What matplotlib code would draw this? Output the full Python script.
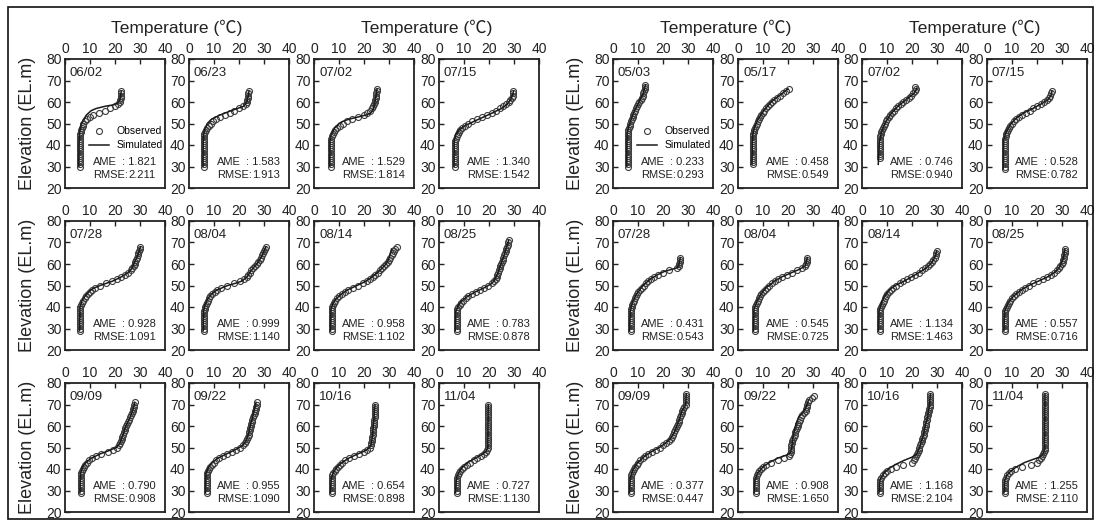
import matplotlib
matplotlib.use("Agg")
import matplotlib.pyplot as plt
import numpy as np
from matplotlib.patches import Rectangle

plt.rcParams['font.family'] = ['Liberation Sans', 'DejaVu Sans']

# ---- observed profiles: temperature at 1 m steps starting from the base elevation ----
# left group (first reservoir)
A_0602_BASE = 30
A_0602_OBS = [6.0, 6.0, 6.0, 6.0, 6.0, 6.0, 6.0, 6.0, 6.0, 6.0, 6.0, 6.0, 6.0, 6.0, 6.0,
              6.1, 6.2, 6.4, 6.7, 7.0, 7.3, 8.0, 8.8, 9.8, 11.0, 13.5, 16.0, 18.0, 20.0,
              21.2, 21.8, 22.0, 22.3, 22.5, 22.5, 22.5]
A_0602_SIM_Z = [30, 40, 45, 48, 50, 52, 54, 56, 57, 58, 58.7, 59.5, 61, 65]
A_0602_SIM_T = [5.5, 5.6, 5.8, 6.1, 6.6, 7.5, 8.6, 10.5, 12.5, 16.0, 19.5, 21.2, 22.0, 22.5]

A_0623_BASE = 30
A_0623_OBS = [6.0, 6.0, 6.0, 6.0, 6.0, 6.0, 6.0, 6.0, 6.0, 6.0, 6.0, 6.0, 6.0, 6.0, 6.0, 6.0,
              6.3, 6.7, 7.2, 7.8, 8.6, 9.5, 10.8, 12.5, 14.5, 16.3, 18.0, 19.8, 21.5, 22.6,
              23.0, 23.2, 23.4, 23.5, 23.6, 23.8]
A_0623_SIM_Z = [30, 44, 47, 50, 52, 54, 56, 58, 60, 65]
A_0623_SIM_T = [5.6, 5.7, 6.2, 7.3, 9.0, 12.5, 17.0, 21.8, 23.2, 24.0]

A_0702_BASE = 30
A_0702_OBS = [6.8, 6.8, 6.8, 6.8, 6.8, 6.8, 6.8, 6.8, 6.8, 6.8, 6.8, 6.8, 6.8,
              6.9, 7.1, 7.4, 7.8, 8.4, 9.2, 10.2, 11.5, 13.0, 15.0, 17.5, 19.8, 21.3, 22.3,
              23.0, 23.6, 24.0, 24.3, 24.5, 24.7, 24.8, 24.9, 25.0, 25.0]
A_0702_SIM_Z = [30, 42, 45, 48, 50, 51, 52, 53, 54, 55, 57, 60, 66]
A_0702_SIM_T = [6.3, 6.4, 6.9, 8.3, 10.0, 11.5, 14.0, 17.5, 21.0, 22.8, 23.8, 24.4, 25.2]

A_0715_BASE = 30
A_0715_OBS = [6.5, 6.5, 6.5, 6.5, 6.5, 6.5, 6.5, 6.5, 6.5, 6.5, 6.5, 6.5, 6.5,
              6.7, 7.0, 7.4, 7.9, 8.5, 9.3, 10.3, 11.6, 13.2, 15.0, 17.0, 19.0, 21.0, 22.8,
              24.4, 25.7, 26.8, 27.8, 28.5, 29.0, 29.4, 29.6, 29.7]
A_0715_SIM_Z = [30, 42, 45, 47, 49, 51, 53, 55, 57, 59, 61, 63, 65]
A_0715_SIM_T = [6.0, 6.1, 6.8, 8.0, 10.5, 14.0, 17.8, 21.5, 25.0, 27.3, 28.6, 29.3, 29.8]

A_0728_BASE = 29
A_0728_OBS = [6.0, 6.0, 6.0, 6.0, 6.0, 6.0, 6.0, 6.0, 6.0, 6.0, 6.0, 6.0,
              6.3, 6.7, 7.2, 7.8, 8.5, 9.2, 9.9, 10.7, 12.0, 14.0, 16.5, 18.8, 20.8, 22.5,
              24.0, 25.2, 26.2, 26.9, 27.4, 27.8, 28.1, 28.4, 28.7, 29.0, 29.3, 29.6, 29.9, 30.0]
A_0728_SIM_Z = [29, 40, 43, 45, 47, 48.5, 50, 51, 52, 54, 56, 58, 62, 66, 68]
A_0728_SIM_T = [5.8, 6.0, 6.8, 8.0, 9.5, 11.0, 14.0, 16.5, 19.0, 22.5, 25.3, 26.8, 28.3, 29.7, 30.2]

A_0804_BASE = 29
A_0804_OBS = [6.0, 6.0, 6.0, 6.0, 6.0, 6.0, 6.0, 6.0, 6.0, 6.0,
              6.2, 6.4, 6.7, 7.0, 7.4, 7.9, 8.5, 9.3, 10.2, 11.3, 12.8, 15.0, 18.0, 20.5,
              22.0, 23.0, 23.6, 24.2, 24.8, 25.5, 26.3, 27.0, 27.6, 28.2, 28.7, 29.2, 29.6,
              30.0, 30.4, 30.7]
A_0804_SIM_Z = [29, 38, 41, 44, 46, 48, 50, 51, 52, 54, 56, 58, 60, 63, 66, 68]
A_0804_SIM_T = [5.7, 5.8, 6.4, 7.6, 9.0, 11.3, 15.5, 18.5, 21.0, 23.2, 24.3, 25.6, 27.1, 28.8, 30.0, 30.8]

A_0814_BASE = 29
A_0814_OBS = [7.0, 7.0, 7.0, 7.0, 7.0, 7.0, 7.0, 7.0, 7.0, 7.0, 7.0,
              7.2, 7.5, 7.9, 8.5, 9.2, 10.0, 11.0, 12.2, 13.7, 15.5, 17.5, 19.5, 21.0, 22.3,
              23.5, 24.5, 25.5, 26.4, 27.3, 28.1, 28.8, 29.4, 30.0, 30.5, 31.0, 31.5, 32.0,
              32.5, 33.0]
A_0814_SIM_Z = [29, 39, 42, 44, 46, 48, 50, 52, 54, 56, 58, 60, 62, 64, 67]
A_0814_SIM_T = [6.6, 6.8, 7.7, 9.0, 11.0, 13.5, 17.2, 20.8, 23.3, 25.4, 27.2, 28.8, 29.8, 30.3, 31.0]

A_0825_BASE = 29
A_0825_OBS = [7.0, 7.0, 7.0, 7.0, 7.0, 7.0, 7.0, 7.0, 7.0, 7.0,
              7.3, 7.7, 8.2, 8.9, 9.7, 10.6, 11.7, 13.0, 14.8, 16.5, 18.0, 19.5, 21.0, 22.0,
              22.6, 23.0, 23.3, 23.6, 23.9, 24.2, 24.5, 24.8, 25.1, 25.4, 25.7, 26.0, 26.3,
              26.6, 26.9, 27.2, 27.5, 27.7, 27.8]
A_0825_SIM_Z = [29, 38, 41, 43, 45, 47, 49, 50.5, 52, 55, 60, 65, 71]
A_0825_SIM_T = [6.5, 6.7, 7.8, 9.3, 11.5, 14.5, 18.2, 20.5, 22.0, 23.3, 24.8, 26.3, 27.9]

A_0909_BASE = 29
A_0909_OBS = [6.5, 6.5, 6.5, 6.5, 6.5, 6.5, 6.5, 6.5, 6.5, 6.5,
              6.7, 7.0, 7.4, 8.0, 8.7, 9.6, 10.8, 12.4, 14.5, 17.0, 19.3, 20.8, 21.6, 22.0,
              22.3, 22.6, 22.9, 23.2, 23.5, 23.8, 24.1, 24.4, 24.8, 25.2, 25.6, 26.0, 26.4,
              26.7, 27.0, 27.2, 27.4, 27.6, 27.8]
A_0909_SIM_Z = [29, 38, 41, 43, 45, 47, 48.5, 50, 52, 56, 60, 64, 68, 71]
A_0909_SIM_T = [6.0, 6.2, 7.0, 8.3, 10.5, 14.0, 17.5, 20.5, 22.0, 23.2, 24.4, 26.0, 27.3, 27.9]

A_0922_BASE = 29
A_0922_OBS = [7.2, 7.2, 7.2, 7.2, 7.2, 7.2, 7.2, 7.2, 7.2, 7.2,
              7.5, 7.9, 8.4, 9.0, 9.8, 10.8, 12.0, 13.5, 15.2, 17.0, 18.7, 20.2, 21.4, 22.2,
              22.8, 23.2, 23.5, 23.8, 24.0, 24.2, 24.4, 24.6, 24.8, 25.0, 25.3, 25.6, 25.9,
              26.2, 26.4, 26.6, 26.8, 27.0, 27.2]
A_0922_SIM_Z = [29, 38, 41, 43, 45, 47, 49, 51, 53, 56, 60, 64, 68, 71]
A_0922_SIM_T = [6.6, 6.8, 7.9, 9.3, 11.5, 15.0, 18.6, 21.5, 22.8, 23.7, 24.5, 25.4, 26.2, 26.8]

A_1016_BASE = 29
A_1016_OBS = [7.0, 7.0, 7.0, 7.0, 7.0, 7.0, 7.0, 7.0,
              7.3, 7.7, 8.2, 8.8, 9.5, 10.3, 11.3, 12.5, 14.0, 15.8, 17.8, 19.8, 21.3, 22.2,
              22.6, 22.9, 23.1, 23.2, 23.3, 23.4, 23.5, 23.6, 23.7, 23.8, 23.9, 24.0, 24.1,
              24.2, 24.3, 24.3, 24.4, 24.4, 24.5, 24.5]
A_1016_SIM_Z = [29, 36, 39, 41, 43, 45, 47, 48.5, 50, 52, 56, 62, 70]
A_1016_SIM_T = [6.6, 6.9, 8.0, 9.3, 11.2, 13.8, 17.5, 20.5, 22.3, 23.0, 23.4, 23.9, 24.4]

A_1104_BASE = 29
A_1104_OBS = [7.0, 7.0, 7.0, 7.0, 7.0, 7.0, 7.0, 7.0,
              7.4, 7.9, 8.5, 9.2, 10.0, 11.0, 12.3, 13.8, 15.3, 16.8, 18.0, 18.8, 19.2, 19.4,
              19.5, 19.5, 19.5, 19.5, 19.5, 19.5, 19.5, 19.6, 19.6, 19.6, 19.6, 19.6, 19.6,
              19.6, 19.6, 19.7, 19.7, 19.7, 19.7, 19.7]
A_1104_SIM_Z = [29, 36, 39, 41, 43, 45, 47, 48.5, 50, 70]
A_1104_SIM_T = [6.6, 7.0, 8.2, 9.5, 11.5, 14.5, 17.5, 19.0, 19.5, 19.7]

# right group (second reservoir)
B_0503_BASE = 30
B_0503_OBS = [5.8, 5.8, 5.8, 5.8, 5.8, 5.8, 5.8, 5.8, 5.8, 5.8, 5.8, 5.8, 5.8, 5.8, 5.8,
              5.8, 5.8, 6.0, 6.3, 6.6, 6.9, 7.2, 7.5, 7.8, 8.1, 8.4, 8.8, 9.2, 9.6, 10.0,
              10.5, 11.0, 11.4, 11.8, 12.1, 12.4, 12.6, 12.8, 12.9]
B_0503_SIM_Z = [30, 44, 48, 52, 56, 60, 64, 68]
B_0503_SIM_T = [5.5, 5.6, 6.1, 7.3, 8.6, 10.4, 12.1, 13.0]

B_0517_BASE = 31
B_0517_OBS = [6.0, 6.0, 6.0, 6.0, 6.0, 6.0, 6.0, 6.0, 6.0, 6.0, 6.0, 6.0, 6.0, 6.0, 6.0,
              6.2, 6.4, 6.7, 7.0, 7.4, 7.8, 8.2, 8.7, 9.2, 9.8, 10.4, 11.0, 11.8, 12.6,
              13.5, 14.5, 15.6, 16.8, 18.0, 19.2, 20.2]
B_0517_SIM_Z = [31, 44, 48, 52, 56, 60, 63, 66]
B_0517_SIM_T = [5.6, 5.8, 6.5, 8.0, 10.3, 13.3, 16.5, 20.0]

B_0702_BASE = 34
B_0702_OBS = [7.0, 7.0, 7.0, 7.0, 7.0, 7.0, 7.0, 7.0, 7.0, 7.0,
              7.2, 7.4, 7.7, 8.0, 8.3, 8.7, 9.1, 9.6, 10.1, 10.7, 11.3, 12.0, 12.8, 13.6,
              14.5, 15.5, 16.5, 17.5, 18.6, 19.6, 20.5, 21.2, 21.6, 21.4]
B_0702_SIM_Z = [31, 36, 42, 46, 50, 54, 58, 61, 64, 66.5]
B_0702_SIM_T = [6.5, 6.7, 7.0, 7.8, 9.1, 11.2, 14.3, 17.6, 20.8, 22.0]

B_0715_BASE = 29
B_0715_OBS = [7.0, 7.0, 7.0, 7.0, 7.0, 7.0, 7.0, 7.0, 7.0, 7.0, 7.0, 7.0, 7.0, 7.0,
              7.2, 7.4, 7.7, 8.0, 8.4, 8.8, 9.3, 9.9, 10.6, 11.5, 12.6, 14.0, 15.5, 17.0,
              18.5, 20.0, 21.4, 22.8, 24.0, 24.8, 25.3, 25.6, 25.8]
B_0715_SIM_Z = [29, 42, 46, 50, 53, 55, 57, 59, 61, 63, 65]
B_0715_SIM_T = [6.5, 6.6, 7.6, 9.6, 12.2, 14.8, 18.3, 21.5, 24.3, 25.6, 26.0]

B_0728_BASE = 29
B_0728_OBS = [7.0, 7.0, 7.0, 7.0, 7.0, 7.0, 7.0, 7.0, 7.0, 7.0,
              7.2, 7.4, 7.7, 8.0, 8.3, 8.7, 9.1, 9.6, 10.1, 10.7, 11.4, 12.2, 13.0, 14.0,
              15.1, 16.4, 18.0, 20.0, 22.5, 25.5, 26.3, 26.5, 26.6, 26.7, 26.8]
B_0728_SIM_Z = [29, 38, 42, 46, 50, 53, 55, 56.5, 57.5, 58.3, 60, 63]
B_0728_SIM_T = [6.6, 6.9, 7.7, 9.4, 12.0, 15.0, 17.8, 20.5, 23.5, 25.8, 26.5, 26.9]

B_0804_BASE = 29
B_0804_OBS = [6.6, 6.6, 6.6, 6.6, 6.6, 6.6, 6.6, 6.6, 6.6, 6.6, 6.6,
              6.8, 7.1, 7.5, 7.9, 8.3, 8.8, 9.3, 9.9, 10.6, 11.4, 12.3, 13.4, 14.6, 16.0,
              17.6, 19.4, 21.4, 23.5, 25.5, 26.8, 27.2, 27.4, 27.5, 27.6]
B_0804_SIM_Z = [29, 39, 43, 46, 49, 52, 54, 56, 57.5, 59, 61, 63]
B_0804_SIM_T = [6.2, 6.4, 7.7, 9.2, 11.3, 14.6, 17.5, 21.5, 24.5, 26.8, 27.4, 27.7]

B_0814_BASE = 29
B_0814_OBS = [7.0, 7.0, 7.0, 7.0, 7.0, 7.0, 7.0, 7.0, 7.0, 7.0,
              7.3, 7.6, 8.0, 8.4, 8.8, 9.2, 9.6, 10.1, 10.7, 11.4, 12.3, 13.5, 15.0, 16.5,
              18.0, 19.5, 21.0, 22.6, 24.0, 25.3, 26.4, 27.3, 28.0, 28.6, 29.1, 29.5, 29.8, 30.0]
B_0814_SIM_Z = [29, 38, 42, 45, 48, 50, 52, 54, 56, 58, 60, 62, 64, 66]
B_0814_SIM_T = [6.6, 6.8, 7.8, 9.0, 11.0, 13.2, 16.8, 19.8, 22.8, 25.5, 27.4, 28.6, 29.4, 29.9]

B_0825_BASE = 29
B_0825_OBS = [7.2, 7.2, 7.2, 7.2, 7.2, 7.2, 7.2, 7.2, 7.2, 7.2,
              7.5, 7.8, 8.2, 8.7, 9.3, 10.0, 10.8, 11.7, 12.8, 14.0, 15.3, 16.8, 18.5, 20.3,
              22.2, 24.0, 25.6, 26.8, 27.8, 28.6, 29.3, 29.8, 30.2, 30.5, 30.7, 30.9, 31.0,
              31.1, 31.2]
B_0825_SIM_Z = [29, 38, 42, 45, 48, 50, 52, 54, 56, 58, 60, 62, 65, 67]
B_0825_SIM_T = [6.8, 7.0, 8.5, 10.6, 13.8, 16.7, 20.5, 24.2, 27.0, 28.7, 29.6, 30.3, 30.9, 31.2]

B_0909_BASE = 29
B_0909_OBS = [7.0, 7.0, 7.0, 7.0, 7.0, 7.0, 7.0, 7.0,
              7.2, 7.5, 7.9, 8.3, 8.8, 9.4, 10.1, 10.9, 11.8, 12.8, 14.0, 15.4, 17.0, 18.6,
              20.0, 21.2, 22.2, 23.0, 23.6, 24.1, 24.5, 24.9, 25.3, 25.6, 25.9, 26.2, 26.5,
              26.8, 27.1, 27.4, 27.7, 28.0, 28.5, 29.0, 29.1, 29.1, 29.2, 29.2, 29.2]
B_0909_SIM_Z = [29, 36, 40, 43, 46, 48, 50, 52, 54, 57, 62, 67, 69, 70, 75]
B_0909_SIM_T = [6.6, 6.9, 8.1, 9.9, 12.7, 15.3, 18.5, 21.0, 22.9, 24.5, 26.2, 27.6, 28.6, 29.1, 29.3]

B_0922_BASE = 29
B_0922_OBS = [7.0, 7.0, 7.0, 7.0, 7.0, 7.0, 7.0,
              7.3, 7.6, 8.0, 8.5, 9.1, 9.8, 11.0, 13.0, 16.0, 18.5, 20.2, 20.8, 21.0, 21.1,
              21.2, 21.3, 21.5, 21.7, 22.0, 22.3, 22.6, 22.9, 23.2, 23.5, 23.8, 24.1, 24.4,
              24.7, 25.0, 25.4, 26.2, 27.0, 27.3, 27.5, 27.7, 28.0, 28.3, 29.5, 30.2]
B_0922_SIM_Z = [29, 35, 38, 41, 43, 45, 46.5, 47.5, 50, 55, 60, 64, 66, 68, 72]
B_0922_SIM_T = [6.5, 6.8, 7.8, 10.0, 12.5, 15.8, 19.5, 21.0, 21.5, 22.0, 23.0, 24.2, 25.8, 27.0, 28.2]

B_1016_BASE = 29
B_1016_OBS = [7.2, 7.2, 7.2, 7.2, 7.2, 7.2, 7.2,
              7.6, 8.2, 9.0, 10.0, 11.5, 13.5, 16.5, 20.0, 20.8, 21.3, 21.7, 22.0, 22.3,
              22.6, 23.0, 23.3, 23.6, 23.9, 24.2, 24.5, 24.8, 25.0, 25.2, 25.4, 25.5, 25.6,
              25.8, 26.0, 26.2, 26.4, 26.6, 26.8, 27.0, 27.1, 27.2, 27.3, 27.3, 27.3, 27.3, 27.3]
B_1016_SIM_Z = [29, 35, 38, 40, 42, 44, 45.5, 47, 50, 55, 60, 65, 70, 75]
B_1016_SIM_T = [6.8, 7.2, 8.8, 10.5, 13.2, 16.8, 20.0, 22.0, 23.0, 24.4, 25.3, 26.4, 27.0, 27.4]

B_1104_BASE = 29
B_1104_OBS = [7.2, 7.2, 7.2, 7.2, 7.2, 7.2, 7.2,
              7.6, 8.1, 8.8, 9.6, 11.0, 14.0, 17.5, 19.8, 20.8, 21.5, 22.0, 22.5, 22.8, 23.0,
              23.1, 23.1, 23.1, 23.1, 23.1, 23.1, 23.1, 23.1, 23.1, 23.1, 23.1, 23.1, 23.1,
              23.2, 23.2, 23.2, 23.2, 23.2, 23.2, 23.2, 23.2, 23.2, 23.2, 23.2, 23.2, 23.2]
B_1104_SIM_Z = [29, 35, 37, 39, 41, 43, 44.5, 45.5, 47, 49, 75]
B_1104_SIM_T = [6.8, 7.2, 7.9, 9.5, 11.8, 15.0, 18.5, 21.0, 22.5, 23.0, 23.2]

# ---- panel labels and error statistics ----
DATES_A = ['06/02', '06/23', '07/02', '07/15', '07/28', '08/04', '08/14', '08/25',
           '09/09', '09/22', '10/16', '11/04']
AME_A = [1.821, 1.583, 1.529, 1.340, 0.928, 0.999, 0.958, 0.783, 0.790, 0.955, 0.654, 0.727]
RMSE_A = [2.211, 1.913, 1.814, 1.542, 1.091, 1.140, 1.102, 0.878, 0.908, 1.090, 0.898, 1.130]

DATES_B = ['05/03', '05/17', '07/02', '07/15', '07/28', '08/04', '08/14', '08/25',
           '09/09', '09/22', '10/16', '11/04']
AME_B = [0.233, 0.458, 0.746, 0.528, 0.431, 0.545, 1.134, 0.557, 0.377, 0.908, 1.168, 1.255]
RMSE_B = [0.293, 0.549, 0.940, 0.782, 0.543, 0.725, 1.463, 0.716, 0.447, 1.650, 2.104, 2.110]

PROFILES_A = [
    (A_0602_BASE, A_0602_OBS, A_0602_SIM_Z, A_0602_SIM_T),
    (A_0623_BASE, A_0623_OBS, A_0623_SIM_Z, A_0623_SIM_T),
    (A_0702_BASE, A_0702_OBS, A_0702_SIM_Z, A_0702_SIM_T),
    (A_0715_BASE, A_0715_OBS, A_0715_SIM_Z, A_0715_SIM_T),
    (A_0728_BASE, A_0728_OBS, A_0728_SIM_Z, A_0728_SIM_T),
    (A_0804_BASE, A_0804_OBS, A_0804_SIM_Z, A_0804_SIM_T),
    (A_0814_BASE, A_0814_OBS, A_0814_SIM_Z, A_0814_SIM_T),
    (A_0825_BASE, A_0825_OBS, A_0825_SIM_Z, A_0825_SIM_T),
    (A_0909_BASE, A_0909_OBS, A_0909_SIM_Z, A_0909_SIM_T),
    (A_0922_BASE, A_0922_OBS, A_0922_SIM_Z, A_0922_SIM_T),
    (A_1016_BASE, A_1016_OBS, A_1016_SIM_Z, A_1016_SIM_T),
    (A_1104_BASE, A_1104_OBS, A_1104_SIM_Z, A_1104_SIM_T),
]
PROFILES_B = [
    (B_0503_BASE, B_0503_OBS, B_0503_SIM_Z, B_0503_SIM_T),
    (B_0517_BASE, B_0517_OBS, B_0517_SIM_Z, B_0517_SIM_T),
    (B_0702_BASE, B_0702_OBS, B_0702_SIM_Z, B_0702_SIM_T),
    (B_0715_BASE, B_0715_OBS, B_0715_SIM_Z, B_0715_SIM_T),
    (B_0728_BASE, B_0728_OBS, B_0728_SIM_Z, B_0728_SIM_T),
    (B_0804_BASE, B_0804_OBS, B_0804_SIM_Z, B_0804_SIM_T),
    (B_0814_BASE, B_0814_OBS, B_0814_SIM_Z, B_0814_SIM_T),
    (B_0825_BASE, B_0825_OBS, B_0825_SIM_Z, B_0825_SIM_T),
    (B_0909_BASE, B_0909_OBS, B_0909_SIM_Z, B_0909_SIM_T),
    (B_0922_BASE, B_0922_OBS, B_0922_SIM_Z, B_0922_SIM_T),
    (B_1016_BASE, B_1016_OBS, B_1016_SIM_Z, B_1016_SIM_T),
    (B_1104_BASE, B_1104_OBS, B_1104_SIM_Z, B_1104_SIM_T),
]

# ---- layout (pixels) ----
W, H = 1096, 520
COLS_A = [65, 189, 314, 439]
COLS_B = [613, 738, 862, 987]
ROWS = [59, 221, 383]
PW, PH = 100, 129
INK = '#222222'

fig = plt.figure(figsize=(W / 100, H / 100), dpi=100)
fig.patch.set_facecolor('white')
fig.add_artist(Rectangle((8 / W, 1 / H), 1085 / W, 512 / H, transform=fig.transFigure,
                         fill=False, edgecolor='#111111', linewidth=1.2))


def draw_panel(px, py, prof, date, ame, rmse, legend=False):
    ax = fig.add_axes([px / W, 1 - (py + PH) / H, PW / W, PH / H])
    base, obs, sim_z, sim_t = prof
    z_obs = base + np.arange(len(obs))
    o, = ax.plot(obs, z_obs, 'o', mfc='none', mec='#3c3c3c', ms=4.3, mew=0.8)
    s, = ax.plot(sim_t, sim_z, '-', color='#1a1a1a', lw=1.1)
    ax.set_xlim(0, 40)
    ax.set_ylim(20, 80)
    ax.set_xticks([0, 10, 20, 30, 40])
    ax.set_yticks([20, 30, 40, 50, 60, 70, 80])
    ax.xaxis.tick_top()
    ax.tick_params(direction='in', length=3.5, width=1.0, labelsize=10, pad=2.5,
                   colors=INK)
    for sp in ax.spines.values():
        sp.set_linewidth(1.3)
        sp.set_color(INK)
    ax.text(0.05, 0.89, date, transform=ax.transAxes, fontsize=9.5, va='center',
            color=INK)
    ax.text(0.28, 0.2, 'AME', transform=ax.transAxes, fontsize=8, va='center', color=INK)
    ax.text(0.91, 0.2, ': %.3f' % ame, transform=ax.transAxes, fontsize=8, va='center',
            ha='right', color=INK)
    ax.text(0.28, 0.1, 'RMSE:', transform=ax.transAxes, fontsize=8, va='center', color=INK)
    ax.text(0.91, 0.1, '%.3f' % rmse, transform=ax.transAxes, fontsize=8, va='center',
            ha='right', color=INK)
    if legend:
        ax.legend([o, s], ['Observed', 'Simulated'], loc='center right',
                  bbox_to_anchor=(1.0, 0.385), frameon=False, fontsize=7.5,
                  handlelength=1.9, handletextpad=0.7, labelspacing=0.4,
                  borderaxespad=0.25, borderpad=0)
    return ax


for cols, profs, dates, ames, rmses in [(COLS_A, PROFILES_A, DATES_A, AME_A, RMSE_A),
                                         (COLS_B, PROFILES_B, DATES_B, AME_B, RMSE_B)]:
    for k in range(12):
        r, c = divmod(k, 4)
        draw_panel(cols[c], ROWS[r], profs[k], dates[k], ames[k], rmses[k], legend=(k == 0))
    # axis titles
    for c0, c1 in [(0, 1), (2, 3)]:
        xc = (cols[c0] + cols[c1] + PW) / 2
        fig.text(xc / W, 1 - 28 / H, 'Temperature (℃)', ha='center', va='center',
                 fontsize=12.5, color=INK, family=['Liberation Sans', 'Noto Sans CJK KR'])
    for r in range(3):
        fig.text((cols[0] - 37) / W, 1 - (ROWS[r] + PH / 2) / H, 'Elevation (EL.m)',
                 rotation=90, ha='center', va='center', fontsize=13, color=INK)

fig.savefig('out.png', dpi=100, facecolor='white')
